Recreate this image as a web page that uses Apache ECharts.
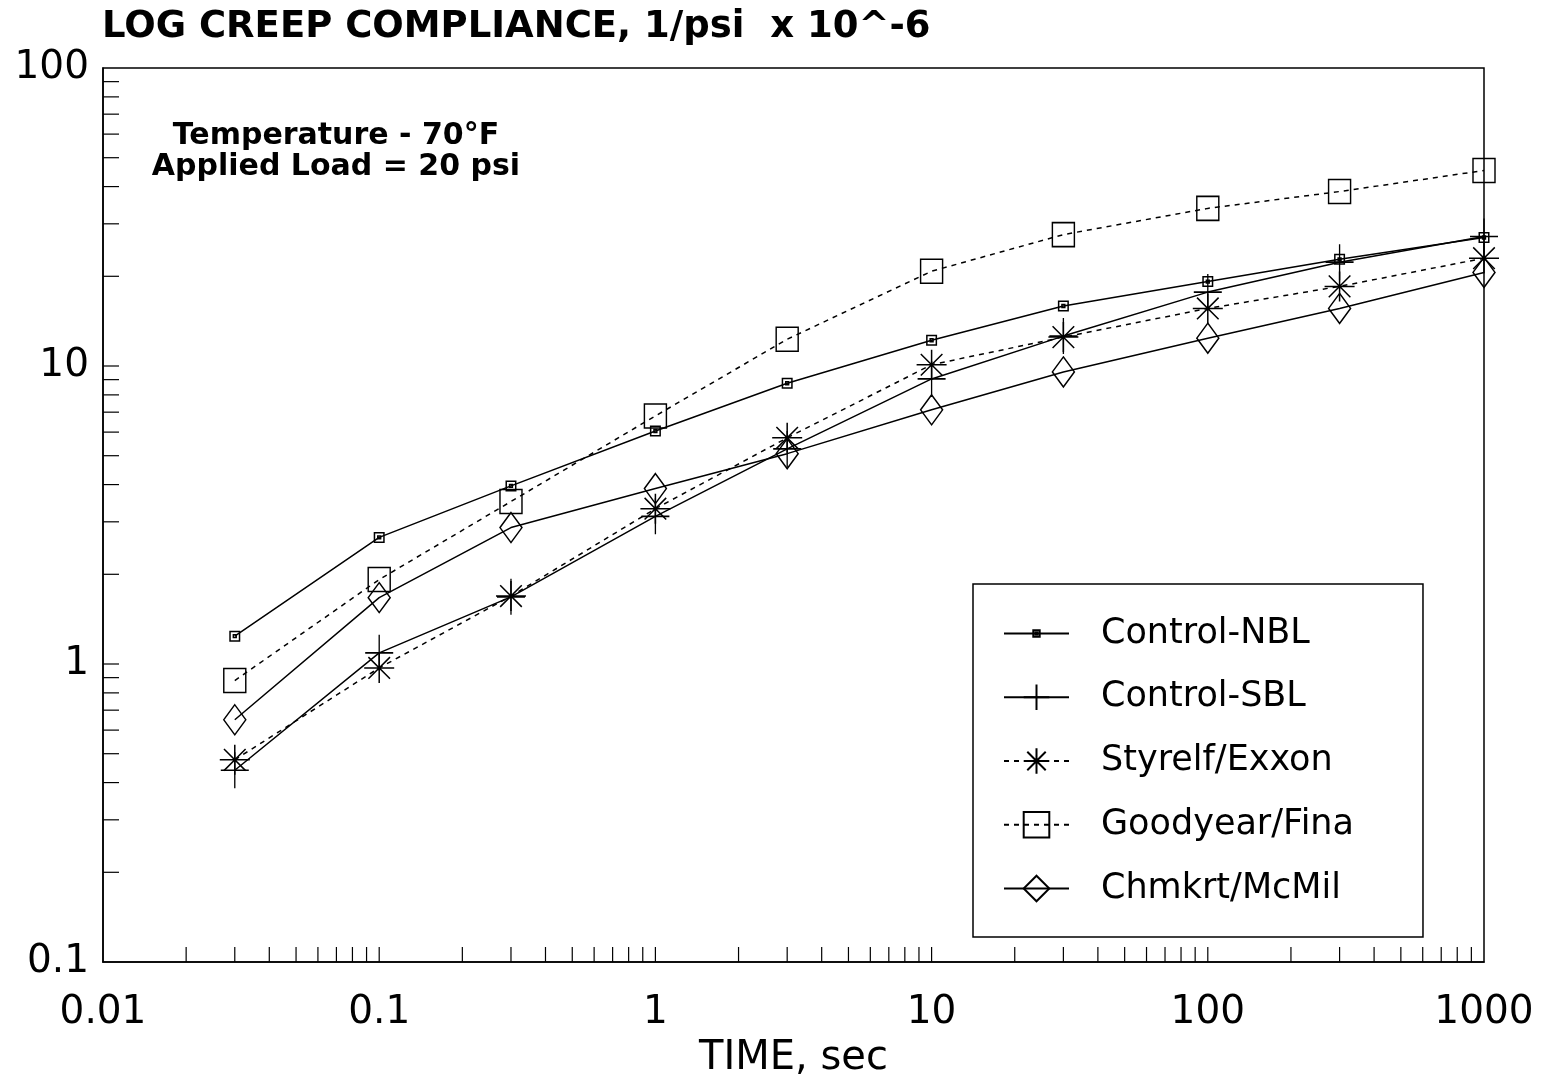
<!DOCTYPE html>
<html>
<head>
<meta charset="utf-8">
<script src="https://cdn.jsdelivr.net/npm/echarts@6/dist/echarts.min.js"></script>
<style>
html,body{margin:0;padding:0;background:#fff;}
#chart{width:1545px;height:1084px;}
</style>
</head>
<body>
<div id="chart"></div>
<script>
// ---- data ----
const time = [0.03, 0.1, 0.3, 1, 3, 10, 30, 100, 300, 1000];
const controlNBL = [1.24, 2.66, 3.96, 6.05, 8.75, 12.2, 15.9, 19.2, 22.8, 27.0];
const controlSBL = [0.44, 1.09, 1.68, 3.13, 5.27, 9.05, 12.6, 17.7, 22.3, 27.2];
const styrelfExxon = [0.477, 0.97, 1.69, 3.32, 5.74, 10.1, 12.5, 15.6, 18.5, 23.0];
const goodyearFina = [0.88, 1.92, 3.51, 6.8, 12.3, 20.8, 27.6, 33.8, 38.5, 45.3];
const chmkrtMcMil = [0.65, 1.67, 2.87, 3.88, 5.08, 7.13, 9.55, 12.4, 15.6, 20.6];
const seriesNames = ['Control-NBL', 'Control-SBL', 'Styrelf/Exxon', 'Goodyear/Fina', 'Chmkrt/McMil'];
const xTickValues = [0.02,0.03,0.04,0.05,0.06,0.07,0.08,0.09,0.1,
  0.2,0.3,0.4,0.5,0.6,0.7,0.8,0.9,1,
  2,3,4,5,6,7,8,9,10,
  20,30,40,50,60,70,80,90,100,
  200,300,400,500,600,700,800,900];
const yTickValues = [0.2,0.3,0.4,0.5,0.6,0.7,0.8,0.9,1,
  2,3,4,5,6,7,8,9,10,
  20,30,40,50,60,70,80,90];
const xMin = 0.01, xMax = 1000, yMin = 0.1, yMax = 100;

const FONT = '"DejaVu Sans", "Liberation Sans", sans-serif';
const pair = (vals) => time.map((t, i) => [t, vals[i]]);

const chart = echarts.init(document.getElementById('chart'), null, {renderer: 'canvas'});

function mkSeries(name, vals, symbol, size, dashed) {
  return {
    name: name,
    type: 'line',
    data: pair(vals),
    symbol: symbol,
    symbolSize: size,
    showAllSymbol: true,
    lineStyle: {color: '#000', width: 1.5, type: dashed ? [5, 5] : 'solid'},
    itemStyle: {color: 'rgba(0,0,0,0)', borderColor: '#000', borderWidth: 1.5},
    emphasis: {disabled: true},
    z: 3
  };
}

const option = {
  animation: false,
  backgroundColor: '#fff',
  title: {
    text: 'LOG CREEP COMPLIANCE, 1/psi  x 10^-6',
    left: 97, top: 4,
    textStyle: {fontFamily: FONT, fontSize: 37, fontWeight: 'bold', color: '#000'}
  },
  graphic: [{
    type: 'text', x: 336, y: 121, silent: true,
    style: {
      text: 'Temperature - 70°F\nApplied Load = 20 psi',
      font: 'bold 30px "DejaVu Sans", sans-serif',
      fill: '#000', textAlign: 'center', lineHeight: 31
    }
  }],
  legend: {
    data: seriesNames,
    orient: 'vertical',
    left: 973, top: 584,
    itemWidth: 65, itemHeight: 32, itemGap: 28.75,
    padding: [32, 69, 31, 30],
    borderColor: '#000', borderWidth: 1.5,
    selectedMode: false,
    textStyle: {fontFamily: FONT, fontSize: 35, color: '#000', padding: [0, 0, 0, 27]}
  },
  grid: {
    left: 103, right: 61, top: 68, bottom: 119,
    show: true, borderColor: '#000', borderWidth: 1.5, backgroundColor: 'transparent'
  },
  xAxis: {
    type: 'log', logBase: 10, min: xMin, max: xMax,
    name: 'TIME, sec', nameLocation: 'middle', nameGap: 77,
    nameTextStyle: {fontFamily: FONT, fontSize: 40, color: '#000'},
    axisLine: {lineStyle: {color: '#000', width: 1.5}},
    axisTick: {show: false}, minorTick: {show: false},
    splitLine: {show: false},
    axisLabel: {fontFamily: FONT, fontSize: 39, color: '#000', margin: 31,
      formatter: v => String(+(+v).toPrecision(6))}
  },
  yAxis: {
    type: 'log', logBase: 10, min: yMin, max: yMax,
    axisLine: {lineStyle: {color: '#000', width: 1.5}},
    axisTick: {show: false}, minorTick: {show: false},
    splitLine: {show: false},
    axisLabel: {fontFamily: FONT, fontSize: 39, color: '#000', margin: 14,
      padding: [6, 0, 0, 0],
      formatter: v => String(+(+v).toPrecision(6))}
  },
  series: [
    mkSeries('Control-NBL', controlNBL,
      'path://M-4,-4M4,4M-1,-1L1,-1L1,1L-1,1Z M-0.3,-0.3L0.3,-0.3L0.3,0.3L-0.3,0.3Z', 38, false),
    mkSeries('Control-SBL', controlSBL, 'path://M0,-1L0,1M-1,0L1,0', [28, 36], false),
    mkSeries('Styrelf/Exxon', styrelfExxon,
      'path://M0,-1L0,1M-1,0L1,0M-0.72,-0.72L0.72,0.72M-0.72,0.72L0.72,-0.72', [30, 30], true),
    mkSeries('Goodyear/Fina', goodyearFina, 'rect', [22, 24], true),
    mkSeries('Chmkrt/McMil', chmkrtMcMil, 'diamond', [22, 30], false),
    {
      type: 'custom', silent: true, z: 2,
      data: xTickValues.map(v => [v, yMin]),
      renderItem: (params, api) => {
        const p = api.coord([api.value(0), yMin]);
        return {type: 'line', shape: {x1: p[0], y1: p[1], x2: p[0], y2: p[1] - 15},
          style: {stroke: '#000', lineWidth: 1.2}};
      }
    },
    {
      type: 'custom', silent: true, z: 2,
      data: yTickValues.map(v => [xMin, v]),
      renderItem: (params, api) => {
        const p = api.coord([xMin, api.value(1)]);
        return {type: 'line', shape: {x1: p[0], y1: p[1], x2: p[0] + 16, y2: p[1]},
          style: {stroke: '#000', lineWidth: 1.2}};
      }
    }
  ]
};
chart.setOption(option);
</script>
</body>
</html>
